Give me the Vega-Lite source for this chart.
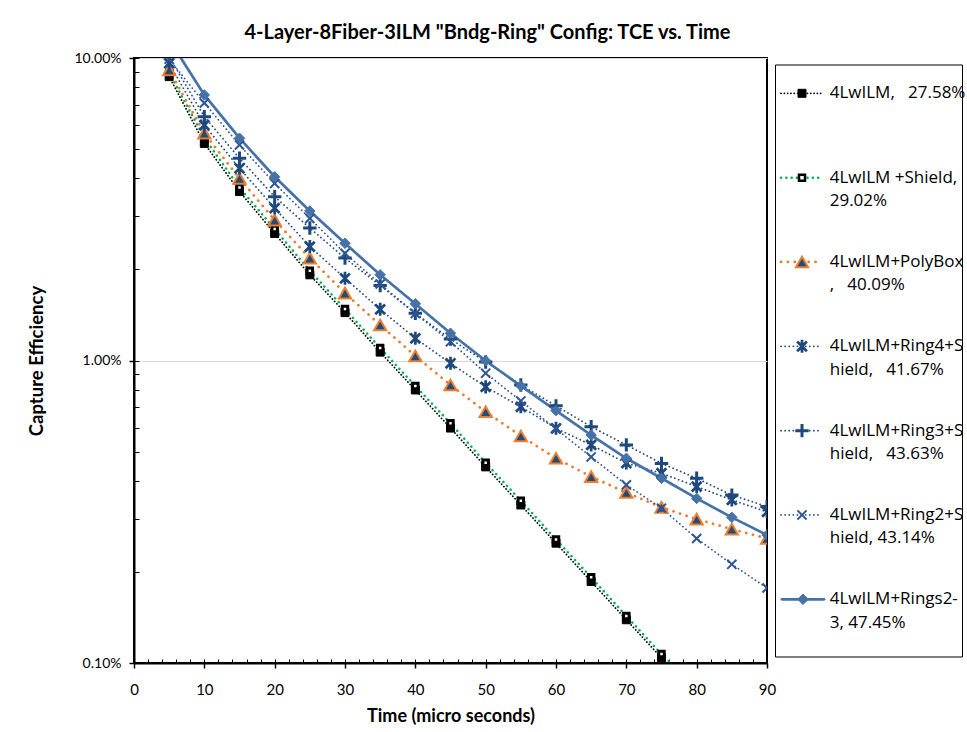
{
  "$schema": "https://vega.github.io/schema/vega-lite/v6.json",
  "autosize": {"type": "pad"},
  "padding": {"left": 26, "top": 21, "right": 2, "bottom": 2},
  "background": "white",
  "config": {
    "font": "Lato",
    "view": {"stroke": null},
    "axis": {"labelFont": "Lato", "titleFont": "Lato", "labelColor": "#000", "titleColor": "#000"},
    "title": {"font": "Lato"}
  },
  "bounds": "flush",
  "spacing": 8,
  "center": true,
  "resolve": {"scale": {"x": "independent", "y": "independent"}},
  "datasets": {
    "series": [
      {"s":"4LwILM","t":5,"v":0.0868},{"s":"4LwILM","t":10,"v":0.0522},{"s":"4LwILM","t":15,"v":0.0362},{"s":"4LwILM","t":20,"v":0.0263},{"s":"4LwILM","t":25,"v":0.0192},{"s":"4LwILM","t":30,"v":0.0144},{"s":"4LwILM","t":35,"v":0.01066},{"s":"4LwILM","t":40,"v":0.00799},{"s":"4LwILM","t":45,"v":0.00598},{"s":"4LwILM","t":50,"v":0.00445},{"s":"4LwILM","t":55,"v":0.00333},{"s":"4LwILM","t":60,"v":0.00249},{"s":"4LwILM","t":65,"v":0.00186},{"s":"4LwILM","t":70,"v":0.00139},{"s":"4LwILM","t":75,"v":0.00104},{"s":"4LwILM","t":80,"v":0.00078},
      {"s":"4LwILM +Shield","t":5,"v":0.0892},{"s":"4LwILM +Shield","t":10,"v":0.0545},{"s":"4LwILM +Shield","t":15,"v":0.0373},{"s":"4LwILM +Shield","t":20,"v":0.0272},{"s":"4LwILM +Shield","t":25,"v":0.0198},{"s":"4LwILM +Shield","t":30,"v":0.0148},{"s":"4LwILM +Shield","t":35,"v":0.0110},{"s":"4LwILM +Shield","t":40,"v":0.00824},{"s":"4LwILM +Shield","t":45,"v":0.0062},{"s":"4LwILM +Shield","t":50,"v":0.00459},{"s":"4LwILM +Shield","t":55,"v":0.00344},{"s":"4LwILM +Shield","t":60,"v":0.00256},{"s":"4LwILM +Shield","t":65,"v":0.00192},{"s":"4LwILM +Shield","t":70,"v":0.00143},{"s":"4LwILM +Shield","t":75,"v":0.00107},{"s":"4LwILM +Shield","t":80,"v":0.00083},
      {"s":"4LwILM+PolyBox","t":5,"v":0.0913},{"s":"4LwILM+PolyBox","t":10,"v":0.0564},{"s":"4LwILM+PolyBox","t":15,"v":0.0400},{"s":"4LwILM+PolyBox","t":20,"v":0.0291},{"s":"4LwILM+PolyBox","t":25,"v":0.0218},{"s":"4LwILM+PolyBox","t":30,"v":0.0167},{"s":"4LwILM+PolyBox","t":35,"v":0.0131},{"s":"4LwILM+PolyBox","t":40,"v":0.01035},{"s":"4LwILM+PolyBox","t":45,"v":0.0083},{"s":"4LwILM+PolyBox","t":50,"v":0.00677},{"s":"4LwILM+PolyBox","t":55,"v":0.00563},{"s":"4LwILM+PolyBox","t":60,"v":0.00475},{"s":"4LwILM+PolyBox","t":65,"v":0.00413},{"s":"4LwILM+PolyBox","t":70,"v":0.00366},{"s":"4LwILM+PolyBox","t":75,"v":0.00327},{"s":"4LwILM+PolyBox","t":80,"v":0.00299},{"s":"4LwILM+PolyBox","t":85,"v":0.00277},{"s":"4LwILM+PolyBox","t":90,"v":0.00258},
      {"s":"4LwILM+Ring4+Shield","t":5,"v":0.0961},{"s":"4LwILM+Ring4+Shield","t":10,"v":0.0600},{"s":"4LwILM+Ring4+Shield","t":15,"v":0.0432},{"s":"4LwILM+Ring4+Shield","t":20,"v":0.0319},{"s":"4LwILM+Ring4+Shield","t":25,"v":0.0238},{"s":"4LwILM+Ring4+Shield","t":30,"v":0.0187},{"s":"4LwILM+Ring4+Shield","t":35,"v":0.01476},{"s":"4LwILM+Ring4+Shield","t":40,"v":0.01184},{"s":"4LwILM+Ring4+Shield","t":45,"v":0.00979},{"s":"4LwILM+Ring4+Shield","t":50,"v":0.00818},{"s":"4LwILM+Ring4+Shield","t":55,"v":0.00703},{"s":"4LwILM+Ring4+Shield","t":60,"v":0.00597},{"s":"4LwILM+Ring4+Shield","t":65,"v":0.00526},{"s":"4LwILM+Ring4+Shield","t":70,"v":0.00458},{"s":"4LwILM+Ring4+Shield","t":75,"v":0.00424},{"s":"4LwILM+Ring4+Shield","t":80,"v":0.00383},{"s":"4LwILM+Ring4+Shield","t":85,"v":0.00346},{"s":"4LwILM+Ring4+Shield","t":90,"v":0.00316},
      {"s":"4LwILM+Ring3+Shield","t":5,"v":0.101},{"s":"4LwILM+Ring3+Shield","t":10,"v":0.064},{"s":"4LwILM+Ring3+Shield","t":15,"v":0.0466},{"s":"4LwILM+Ring3+Shield","t":20,"v":0.0348},{"s":"4LwILM+Ring3+Shield","t":25,"v":0.0274},{"s":"4LwILM+Ring3+Shield","t":30,"v":0.0218},{"s":"4LwILM+Ring3+Shield","t":35,"v":0.0177},{"s":"4LwILM+Ring3+Shield","t":40,"v":0.01433},{"s":"4LwILM+Ring3+Shield","t":45,"v":0.01178},{"s":"4LwILM+Ring3+Shield","t":50,"v":0.00989},{"s":"4LwILM+Ring3+Shield","t":55,"v":0.0083},{"s":"4LwILM+Ring3+Shield","t":60,"v":0.00708},{"s":"4LwILM+Ring3+Shield","t":65,"v":0.00604},{"s":"4LwILM+Ring3+Shield","t":70,"v":0.00526},{"s":"4LwILM+Ring3+Shield","t":75,"v":0.00457},{"s":"4LwILM+Ring3+Shield","t":80,"v":0.00408},{"s":"4LwILM+Ring3+Shield","t":85,"v":0.00359},{"s":"4LwILM+Ring3+Shield","t":90,"v":0.00329},
      {"s":"4LwILM+Ring2+Shield","t":5,"v":0.099},{"s":"4LwILM+Ring2+Shield","t":10,"v":0.071},{"s":"4LwILM+Ring2+Shield","t":15,"v":0.0516},{"s":"4LwILM+Ring2+Shield","t":20,"v":0.0385},{"s":"4LwILM+Ring2+Shield","t":25,"v":0.0295},{"s":"4LwILM+Ring2+Shield","t":30,"v":0.0226},{"s":"4LwILM+Ring2+Shield","t":35,"v":0.0179},{"s":"4LwILM+Ring2+Shield","t":40,"v":0.0143},{"s":"4LwILM+Ring2+Shield","t":45,"v":0.01154},{"s":"4LwILM+Ring2+Shield","t":50,"v":0.00908},{"s":"4LwILM+Ring2+Shield","t":55,"v":0.00735},{"s":"4LwILM+Ring2+Shield","t":60,"v":0.00594},{"s":"4LwILM+Ring2+Shield","t":65,"v":0.0048},{"s":"4LwILM+Ring2+Shield","t":70,"v":0.00388},{"s":"4LwILM+Ring2+Shield","t":75,"v":0.00325},{"s":"4LwILM+Ring2+Shield","t":80,"v":0.00258},{"s":"4LwILM+Ring2+Shield","t":85,"v":0.00212},{"s":"4LwILM+Ring2+Shield","t":90,"v":0.00177},
      {"s":"4LwILM+Rings2-3","t":5,"v":0.115},{"s":"4LwILM+Rings2-3","t":10,"v":0.0755},{"s":"4LwILM+Rings2-3","t":15,"v":0.0543},{"s":"4LwILM+Rings2-3","t":20,"v":0.0405},{"s":"4LwILM+Rings2-3","t":25,"v":0.0312},{"s":"4LwILM+Rings2-3","t":30,"v":0.0244},{"s":"4LwILM+Rings2-3","t":35,"v":0.0192},{"s":"4LwILM+Rings2-3","t":40,"v":0.0154},{"s":"4LwILM+Rings2-3","t":45,"v":0.0123},{"s":"4LwILM+Rings2-3","t":50,"v":0.00998},{"s":"4LwILM+Rings2-3","t":55,"v":0.00824},{"s":"4LwILM+Rings2-3","t":60,"v":0.00683},{"s":"4LwILM+Rings2-3","t":65,"v":0.00567},{"s":"4LwILM+Rings2-3","t":70,"v":0.00475},{"s":"4LwILM+Rings2-3","t":75,"v":0.00408},{"s":"4LwILM+Rings2-3","t":80,"v":0.0035},{"s":"4LwILM+Rings2-3","t":85,"v":0.00303},{"s":"4LwILM+Rings2-3","t":90,"v":0.00265}
    ],
    "legendRows": [
      {"s":"4LwILM","l1":"4LwILM,\u00a0\u00a0 27.58%","l2":""},
      {"s":"4LwILM +Shield","l1":"4LwILM +Shield,","l2":"29.02%"},
      {"s":"4LwILM+PolyBox","l1":"4LwILM+PolyBox","l2":",\u00a0\u00a0 40.09%"},
      {"s":"4LwILM+Ring4+Shield","l1":"4LwILM+Ring4+S","l2":"hield,\u00a0\u00a0 41.67%"},
      {"s":"4LwILM+Ring3+Shield","l1":"4LwILM+Ring3+S","l2":"hield,\u00a0\u00a0 43.63%"},
      {"s":"4LwILM+Ring2+Shield","l1":"4LwILM+Ring2+S","l2":"hield, 43.14%"},
      {"s":"4LwILM+Rings2-3","l1":"4LwILM+Rings2-","l2":"3, 47.45%"}
    ]
  },
  "hconcat": [
    {
      "width": 633,
      "height": 605,
      "view": {"stroke": "#000", "strokeWidth": 2},
      "title": {"text": "4-Layer-8Fiber-3ILM \"Bndg-Ring\" Config: TCE vs. Time", "fontSize": 20, "fontWeight": "bold", "font": "Lato", "anchor": "middle", "dx": 37, "offset": -6, "color": "#000"},
      "data": {"name": "series"},
      "resolve": {"axis": {"x": "independent", "y": "independent"}},
      "encoding": {
        "x": {"field": "t", "type": "quantitative", "scale": {"domain": [0, 90], "nice": false, "zero": false}, "axis": null},
        "y": {"field": "v", "type": "quantitative", "scale": {"type": "log", "domain": [0.001, 0.1], "nice": false}, "axis": null}
      },
      "layer": [
        {
          "mark": {"type": "point", "opacity": 0},
          "encoding": {
            "x": {"field": "t", "type": "quantitative",
              "axis": {"orient": "bottom", "values": [0,10,20,30,40,50,60,70,80,90], "tickSize": 5, "tickColor": "#000", "tickWidth": 1.5, "domainColor": "#000", "domainWidth": 2, "labelFontSize": 15, "labelPadding": 14, "labelFlush": false, "grid": false, "title": "Time (micro seconds)", "titleFontSize": 18, "titleFontWeight": "bold", "titleX": 316.5, "titleY": 53, "titleBaseline": "middle", "titleAlign": "center"}},
            "y": {"field": "v", "type": "quantitative",
              "axis": {"orient": "left", "values": [0.001, 0.01, 0.1], "format": ".2%", "tickSize": 5, "tickColor": "#000", "tickWidth": 1.5, "domainColor": "#000", "domainWidth": 2, "labelFontSize": 14, "labelPadding": 8, "labelFlush": false, "labelOverlap": false, "grid": true, "gridColor": "#d9d9d9", "gridWidth": 1, "title": "Capture Efficiency", "titleFontSize": 18.5, "titleFontWeight": "bold", "titleX": -98, "titleY": 302.5, "titleAngle": -90, "titleAlign": "center", "titleBaseline": "middle"}}
          }
        },
        {
          "mark": {"type": "point", "opacity": 0},
          "encoding": {
            "x": {"field": "t", "type": "quantitative",
              "axis": {"orient": "bottom", "values": [0,2,4,6,8,10,12,14,16,18,20,22,24,26,28,30,32,34,36,38,40,42,44,46,48,50,52,54,56,58,60,62,64,66,68,70,72,74,76,78,80,82,84,86,88,90], "tickSize": -4, "tickColor": "#000", "tickWidth": 1, "labels": false, "domain": false, "grid": false, "title": null}},
            "y": {"field": "v", "type": "quantitative",
              "axis": {"orient": "left", "values": [0.001,0.002,0.003,0.004,0.005,0.006,0.007,0.008,0.009,0.01,0.02,0.03,0.04,0.05,0.06,0.07,0.08,0.09,0.1], "tickSize": -5, "tickColor": "#000", "tickWidth": 1, "labels": false, "domain": false, "grid": false, "title": null}}
          }
        },
        {"transform": [{"filter": {"field": "s", "equal": "4LwILM"}}], "mark": {"type": "line", "clip": true, "strokeCap": "round", "stroke": "#000000", "strokeDash": [0.1, 3.2], "strokeWidth": 1.75}},
        {"transform": [{"filter": {"field": "s", "equal": "4LwILM +Shield"}}], "mark": {"type": "line", "clip": true, "strokeCap": "round", "stroke": "#00b050", "strokeDash": [0.1, 5.2], "strokeWidth": 2.5}},
        {"transform": [{"filter": {"field": "s", "equal": "4LwILM+PolyBox"}}], "mark": {"type": "line", "clip": true, "strokeCap": "round", "stroke": "#ed7d31", "strokeDash": [0.1, 6.8], "strokeWidth": 2.75}},
        {"transform": [{"filter": {"field": "s", "equal": "4LwILM+Ring4+Shield"}}], "mark": {"type": "line", "clip": true, "strokeCap": "round", "stroke": "#1f497d", "strokeDash": [0.1, 4], "strokeWidth": 1.75}},
        {"transform": [{"filter": {"field": "s", "equal": "4LwILM+Ring3+Shield"}}], "mark": {"type": "line", "clip": true, "strokeCap": "round", "stroke": "#1f497d", "strokeDash": [0.1, 4], "strokeWidth": 1.75}},
        {"transform": [{"filter": {"field": "s", "equal": "4LwILM+Ring2+Shield"}}], "mark": {"type": "line", "clip": true, "strokeCap": "round", "stroke": "#2f5597", "strokeDash": [0.1, 4], "strokeWidth": 1.75}},
        {"transform": [{"filter": {"field": "s", "equal": "4LwILM+Rings2-3"}}], "mark": {"type": "line", "clip": true, "strokeCap": "round", "stroke": "#4572a7", "strokeWidth": 2.75}},
        {"transform": [{"filter": {"field": "s", "equal": "4LwILM"}}], "mark": {"type": "point", "clip": true, "opacity": 1, "shape": "square", "filled": true, "fill": "#000000", "stroke": "#000000", "size": 64, "strokeWidth": 1}},
        {"transform": [{"filter": {"field": "s", "equal": "4LwILM +Shield"}}], "mark": {"type": "point", "clip": true, "opacity": 1, "shape": "square", "fill": "#ffffff", "stroke": "#000000", "size": 30, "strokeWidth": 3}},
        {"transform": [{"filter": {"field": "s", "equal": "4LwILM+PolyBox"}}], "mark": {"type": "point", "clip": true, "opacity": 1, "shape": "triangle-up", "fill": "#1f4e79", "stroke": "#ed7d31", "size": 150, "strokeWidth": 2}},
        {"transform": [{"filter": {"field": "s", "equal": "4LwILM+Ring4+Shield"}}], "mark": {"type": "point", "clip": true, "opacity": 1, "shape": "M-0.75,-0.75L0.75,0.75M-0.75,0.75L0.75,-0.75M0,-1L0,1", "fill": "transparent", "stroke": "#1f497d", "size": 170, "strokeWidth": 2.75}},
        {"transform": [{"filter": {"field": "s", "equal": "4LwILM+Ring3+Shield"}}], "mark": {"type": "point", "clip": true, "opacity": 1, "shape": "M-1,0L1,0M0,-1L0,1", "fill": "transparent", "stroke": "#1f497d", "size": 180, "strokeWidth": 3}},
        {"transform": [{"filter": {"field": "s", "equal": "4LwILM+Ring2+Shield"}}], "mark": {"type": "point", "clip": true, "opacity": 1, "shape": "M-0.8,-0.8L0.8,0.8M-0.8,0.8L0.8,-0.8", "fill": "transparent", "stroke": "#2f5597", "size": 130, "strokeWidth": 2}},
        {"transform": [{"filter": {"field": "s", "equal": "4LwILM+Rings2-3"}}], "mark": {"type": "point", "clip": true, "opacity": 1, "shape": "diamond", "filled": true, "fill": "#4572a7", "stroke": "#4572a7", "size": 110, "strokeWidth": 1}}
      ]
    },
    {
      "width": 187,
      "height": 592,
      "view": {"stroke": "#000", "strokeWidth": 1},
      "data": {"name": "legendRows"},
      "encoding": {
        "y": {"field": "s", "type": "nominal", "axis": null,
          "scale": {"type": "point", "padding": 0, "range": [28.8, 534.8], "domain": ["4LwILM","4LwILM +Shield","4LwILM+PolyBox","4LwILM+Ring4+Shield","4LwILM+Ring3+Shield","4LwILM+Ring2+Shield","4LwILM+Rings2-3"]}}
      },
      "layer": [
        {"transform": [{"filter": {"field": "s", "equal": "4LwILM"}}], "mark": {"type": "rule", "strokeCap": "round", "stroke": "#000000", "strokeDash": [0.1, 3.2], "strokeWidth": 1.75}, "encoding": {"x": {"value": 6}, "x2": {"value": 47}}},
        {"transform": [{"filter": {"field": "s", "equal": "4LwILM +Shield"}}], "mark": {"type": "rule", "strokeCap": "round", "stroke": "#00b050", "strokeDash": [0.1, 5.2], "strokeWidth": 2.5}, "encoding": {"x": {"value": 6}, "x2": {"value": 47}}},
        {"transform": [{"filter": {"field": "s", "equal": "4LwILM+PolyBox"}}], "mark": {"type": "rule", "strokeCap": "round", "stroke": "#ed7d31", "strokeDash": [0.1, 6.8], "strokeWidth": 2.75}, "encoding": {"x": {"value": 6}, "x2": {"value": 47}}},
        {"transform": [{"filter": {"field": "s", "equal": "4LwILM+Ring4+Shield"}}], "mark": {"type": "rule", "strokeCap": "round", "stroke": "#1f497d", "strokeDash": [0.1, 4], "strokeWidth": 1.75}, "encoding": {"x": {"value": 6}, "x2": {"value": 47}}},
        {"transform": [{"filter": {"field": "s", "equal": "4LwILM+Ring3+Shield"}}], "mark": {"type": "rule", "strokeCap": "round", "stroke": "#1f497d", "strokeDash": [0.1, 4], "strokeWidth": 1.75}, "encoding": {"x": {"value": 6}, "x2": {"value": 47}}},
        {"transform": [{"filter": {"field": "s", "equal": "4LwILM+Ring2+Shield"}}], "mark": {"type": "rule", "strokeCap": "round", "stroke": "#2f5597", "strokeDash": [0.1, 4], "strokeWidth": 1.75}, "encoding": {"x": {"value": 6}, "x2": {"value": 47}}},
        {"transform": [{"filter": {"field": "s", "equal": "4LwILM+Rings2-3"}}], "mark": {"type": "rule", "strokeCap": "round", "stroke": "#4572a7", "strokeWidth": 2.75}, "encoding": {"x": {"value": 7}, "x2": {"value": 49}}},
        {"transform": [{"filter": {"field": "s", "equal": "4LwILM"}}], "mark": {"type": "point", "opacity": 1, "shape": "square", "filled": true, "fill": "#000000", "stroke": "#000000", "size": 64, "strokeWidth": 1}, "encoding": {"x": {"value": 27}}},
        {"transform": [{"filter": {"field": "s", "equal": "4LwILM +Shield"}}], "mark": {"type": "point", "opacity": 1, "shape": "square", "fill": "#ffffff", "stroke": "#000000", "size": 36, "strokeWidth": 2.5}, "encoding": {"x": {"value": 27}}},
        {"transform": [{"filter": {"field": "s", "equal": "4LwILM+PolyBox"}}], "mark": {"type": "point", "opacity": 1, "shape": "triangle-up", "fill": "#1f4e79", "stroke": "#ed7d31", "size": 150, "strokeWidth": 2}, "encoding": {"x": {"value": 27}}},
        {"transform": [{"filter": {"field": "s", "equal": "4LwILM+Ring4+Shield"}}], "mark": {"type": "point", "opacity": 1, "shape": "M-0.75,-0.75L0.75,0.75M-0.75,0.75L0.75,-0.75M0,-1L0,1", "fill": "transparent", "stroke": "#1f497d", "size": 170, "strokeWidth": 2.75}, "encoding": {"x": {"value": 27}}},
        {"transform": [{"filter": {"field": "s", "equal": "4LwILM+Ring3+Shield"}}], "mark": {"type": "point", "opacity": 1, "shape": "M-1,0L1,0M0,-1L0,1", "fill": "transparent", "stroke": "#1f497d", "size": 180, "strokeWidth": 3}, "encoding": {"x": {"value": 27}}},
        {"transform": [{"filter": {"field": "s", "equal": "4LwILM+Ring2+Shield"}}], "mark": {"type": "point", "opacity": 1, "shape": "M-0.8,-0.8L0.8,0.8M-0.8,0.8L0.8,-0.8", "fill": "transparent", "stroke": "#2f5597", "size": 130, "strokeWidth": 2}, "encoding": {"x": {"value": 27}}},
        {"transform": [{"filter": {"field": "s", "equal": "4LwILM+Rings2-3"}}], "mark": {"type": "point", "opacity": 1, "shape": "diamond", "filled": true, "fill": "#4572a7", "stroke": "#4572a7", "size": 110, "strokeWidth": 1}, "encoding": {"x": {"value": 28}}},
        {"mark": {"type": "text", "align": "left", "baseline": "middle", "fontSize": 17, "font": "Open Sans", "color": "#000"}, "encoding": {"x": {"value": 54.7}, "text": {"field": "l1"}}},
        {"mark": {"type": "text", "align": "left", "baseline": "middle", "fontSize": 17, "font": "Open Sans", "color": "#000", "dy": 23.5}, "encoding": {"x": {"value": 54.7}, "text": {"field": "l2"}}}
      ]
    }
  ]
}
